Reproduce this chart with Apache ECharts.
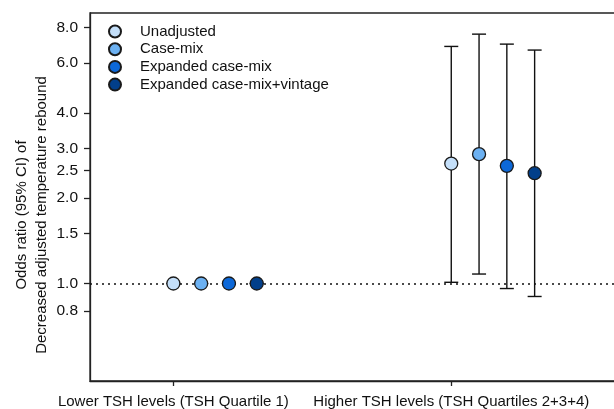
<!DOCTYPE html>
<html>
<head>
<meta charset="utf-8">
<script src="https://cdn.jsdelivr.net/npm/echarts@6/dist/echarts.min.js"></script>
<style>
  html, body { margin: 0; padding: 0; background: #fff; }
  #chart { width: 614px; height: 409px; }
</style>
</head>
<body>
<div id="chart"></div>
<script>
// categories, placed at 1 and 2 on the x scale; series are dodged to the right
const categories = ['Lower TSH levels (TSH Quartile 1)', 'Higher TSH levels (TSH Quartiles 2+3+4)']
const groupPos = [1, 2]
const dodge = 0.1

const seriesNames = ['Unadjusted', 'Case-mix', 'Expanded case-mix', 'Expanded case-mix+vintage']
const seriesColors = ['#c4dff9', '#6cb1f2', '#0d68d8', '#023f8a']

// odds ratios, per series: [lower group, higher group]
const oddsRatio = [
  [1.0, 2.65],
  [1.0, 2.86],
  [1.0, 2.60],
  [1.0, 2.45]
]
const ciLow = [
  [1.0, 1.01],
  [1.0, 1.08],
  [1.0, 0.96],
  [1.0, 0.90]
]
const ciHigh = [
  [1.0, 6.86],
  [1.0, 7.58],
  [1.0, 6.99],
  [1.0, 6.66]
]
const yTicks = [0.8, 1.0, 1.5, 2.0, 2.5, 3.0, 4.0, 6.0, 8.0]

const font = 'Liberation Sans, Arial'
const chart = echarts.init(document.getElementById('chart'))

const xOf = (s, g) => groupPos[g] + s * dodge

// error bars with caps, drawn under the points
const errorSeries = seriesNames.map((name, s) => ({
  type: 'custom',
  z: 2,
  silent: true,
  data: categories.map((c, g) => [xOf(s, g), ciLow[s][g], ciHigh[s][g]]),
  renderItem: (params, api) => {
    const lo = api.coord([api.value(0), api.value(1)])
    const hi = api.coord([api.value(0), api.value(2)])
    const w = 7
    const style = { stroke: '#111', lineWidth: 1.4 }
    return {
      type: 'group',
      children: [
        { type: 'line', shape: { x1: lo[0], y1: lo[1], x2: hi[0], y2: hi[1] }, style },
        { type: 'line', shape: { x1: lo[0] - w, y1: lo[1], x2: lo[0] + w, y2: lo[1] }, style },
        { type: 'line', shape: { x1: hi[0] - w, y1: hi[1], x2: hi[0] + w, y2: hi[1] }, style }
      ]
    }
  }
}))

const pointSeries = seriesNames.map((name, s) => ({
  name: name,
  type: 'scatter',
  z: 5,
  symbol: 'circle',
  symbolSize: 13,
  itemStyle: { color: seriesColors[s], borderColor: '#1a1a1a', borderWidth: 1.3, opacity: 1 },
  data: categories.map((c, g) => [xOf(s, g), oddsRatio[s][g]]),
  markLine: s === 0 ? {
    silent: true,
    symbol: 'none',
    label: { show: false },
    lineStyle: { color: '#111', type: [2, 4], width: 1.6 },
    data: [{ yAxis: 1 }]
  } : undefined
}))

chart.setOption({
  animation: false,
  grid: {
    left: 90, top: 13, right: -4, bottom: 28,
    outerBoundsMode: 'none',
    show: true, borderColor: '#222', borderWidth: 1.3
  },
  legend: {
    orient: 'vertical',
    left: 103, top: 19,
    itemWidth: 40, itemHeight: 12, itemGap: 2.7,
    icon: 'circle',
    data: seriesNames,
    textStyle: { fontFamily: font, fontSize: 15, color: '#111' }
  },
  xAxis: {
    type: 'value',
    min: 0.7, max: 2.6,
    splitLine: { show: false },
    axisLine: { show: true, lineStyle: { color: '#222', width: 1.3 } },
    axisTick: { show: true, length: 5, customValues: groupPos, lineStyle: { color: '#222', width: 1.3 } },
    axisLabel: {
      customValues: groupPos,
      margin: 13,
      fontFamily: font, fontSize: 15, color: '#111',
      formatter: v => categories[groupPos.indexOf(v)] || ''
    }
  },
  yAxis: {
    type: 'log',
    logBase: 10,
    min: 0.453, max: 9.0,
    name: 'Odds ratio (95% CI) of\nDecreased adjusted temperature rebound',
    nameLocation: 'middle',
    nameGap: 38,
    nameMoveOverlap: false,
    nameTextStyle: { fontFamily: font, fontSize: 15, color: '#111', lineHeight: 20, padding: [0, 36, 0, 0] },
    splitLine: { show: false },
    axisLine: { show: true, lineStyle: { color: '#222', width: 1.3 } },
    axisTick: { show: true, length: 6, customValues: yTicks, lineStyle: { color: '#222', width: 1.3 } },
    axisLabel: {
      customValues: yTicks,
      margin: 12,
      fontFamily: font, fontSize: 15.5, color: '#111',
      formatter: v => Number(v).toFixed(1)
    }
  },
  series: errorSeries.concat(pointSeries)
})
</script>
</body>
</html>
